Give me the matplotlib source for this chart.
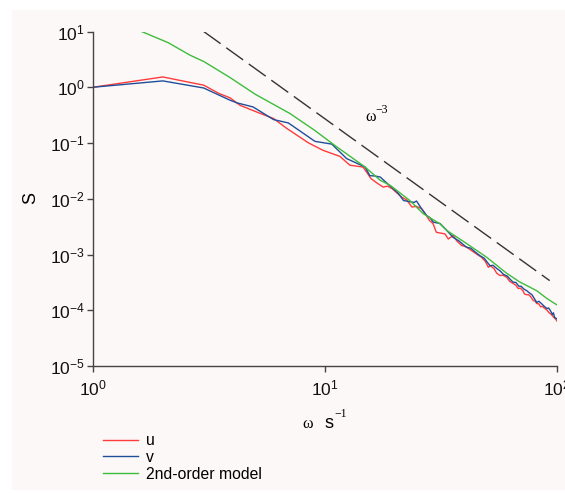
import matplotlib
matplotlib.use("Agg")
import matplotlib.pyplot as plt
import numpy as np
from matplotlib.patches import Rectangle
from matplotlib.ticker import FuncFormatter, LogLocator, NullLocator

plt.rcParams['font.family'] = ['Liberation Sans', 'DejaVu Sans']
plt.rcParams['mathtext.default'] = 'regular'

# u spectrum (red)
omega_u = [1.0, 2.0, 3.0, 3.5, 3.9, 4.3, 5.25, 6.0, 6.85, 8.5, 9.8, 11.6, 12.8, 14.6,
           15.8, 16.8, 17.8, 18.6, 19.5, 20.5, 21.4, 22.5, 23.7, 24.8, 26.1, 27.2,
           28.2, 29.2, 30.2, 32.9, 34.0, 35.7, 37.0, 38.8, 40.5, 42.9, 45.0, 47.3,
           49.0, 50.6, 51.5, 53.5, 55.0, 56.8, 58.5, 60.7, 62.5, 64.9, 66.5, 68.1,
           69.5, 71.3, 72.5, 74.0, 75.5, 77.0, 79.0, 80.5, 81.8, 83.5, 85.0, 86.5,
           88.0, 90.6, 92.5, 94.0, 95.5, 97.0, 98.5, 100.0]
S_u = [1.0, 1.53, 1.09, 0.77, 0.645, 0.475, 0.34, 0.275, 0.182, 0.10, 0.074, 0.0575,
       0.040, 0.037,
       0.0229, 0.019, 0.0162, 0.0168, 0.0151, 0.0125, 0.0107, 9.5e-3, 7.1e-3, 7.3e-3,
       6.6e-3, 5.2e-3, 4.07e-3, 3.6e-3, 2.5e-3, 2.34e-3, 1.9e-3, 2.19e-3, 1.75e-3,
       1.45e-3, 1.38e-3, 1.17e-3, 1.02e-3, 8.9e-4, 7.6e-4, 5.9e-4, 6.3e-4, 5.6e-4,
       4.6e-4, 4.2e-4, 4.25e-4, 3.9e-4, 3.3e-4, 3.0e-4, 2.8e-4, 2.45e-4, 2.5e-4,
       2.24e-4, 1.95e-4, 1.9e-4, 1.9e-4, 1.75e-4, 1.5e-4, 1.45e-4, 1.32e-4, 1.3e-4,
       1.15e-4, 1.18e-4, 1.1e-4, 1.0e-4, 9.0e-5, 8.6e-5, 8.0e-5, 7.4e-5, 7.0e-5, 6.4e-5]

# v spectrum (blue)
omega_v = [1.0, 2.0, 3.0, 3.5, 3.9, 4.17, 4.9, 6.0, 6.95, 9.05, 10.7, 12.4, 14.9,
           15.6, 16.5, 17.3, 18.5, 19.7, 20.7, 21.8, 23.0, 24.2, 24.8, 26.1, 27.4,
           28.3, 29.3, 31.3, 33.5, 35.6, 37.8, 40.7, 42.5, 44.5, 46.6, 48.5, 51.4,
           53.0, 55.0, 56.8, 58.8, 61.0, 62.8, 64.6, 66.5, 68.5, 70.0, 72.0, 74.1,
           76.0, 78.0, 80.0, 81.8, 83.5, 86.0, 88.0, 90.6, 92.0, 94.0, 95.5, 96.5,
           97.7, 100.0]
S_v = [1.0, 1.30, 0.97, 0.72, 0.585, 0.525, 0.443, 0.263, 0.229, 0.107, 0.0955,
       0.0525, 0.037,
       0.026, 0.0255, 0.0245, 0.019, 0.0151, 0.0125, 9.3e-3, 8.9e-3, 8.6e-3, 9.1e-3,
       6.6e-3, 5.0e-3, 4.6e-3, 3.8e-3, 3.6e-3, 2.7e-3, 2.04e-3, 1.75e-3, 1.35e-3,
       1.3e-3, 1.1e-3, 9.5e-4, 8.6e-4, 6.3e-4, 6.4e-4, 5.6e-4, 5.1e-4, 4.4e-4, 4.1e-4,
       3.6e-4, 3.2e-4, 3.15e-4, 2.7e-4, 2.7e-4, 2.4e-4, 2.24e-4, 2.05e-4, 1.9e-4,
       1.6e-4, 1.38e-4, 1.45e-4, 1.3e-4, 1.18e-4, 1.07e-4, 1.1e-4, 9.6e-5, 8.4e-5,
       9.0e-5, 7.4e-5, 7.0e-5]

# 2nd-order model (green)
omega_m = [1.61, 2.11, 2.62, 3.0, 3.9, 5.0, 7.07, 9.0, 11.0, 14.9, 17.3, 19.1, 23.2,
           26.5, 31.3, 33.5, 40.7, 49.8, 60.7, 69.2, 75.0, 81.8, 90.0, 97.7, 100.0]
S_m = [10.1, 6.3, 3.76, 2.9, 1.49, 0.75, 0.337, 0.17, 0.091, 0.037, 0.0214, 0.0174,
       9.3e-3, 5.4e-3, 3.55e-3, 2.7e-3, 1.58e-3, 8.9e-4, 4.6e-4, 3.2e-4, 2.7e-4,
       2.24e-4, 1.65e-4, 1.32e-4, 1.25e-4]

# omega^-3 reference
omega_ref = [3.0, 93.0]
S_ref = [10.0, 3.4e-4]

W, H = 565, 493
fig = plt.figure(figsize=(W / 100, H / 100), dpi=100)
fig.patches.append(Rectangle((12 / W, 3 / H), 553 / W, 480 / H, transform=fig.transFigure,
                             facecolor='#fcf8f7', edgecolor='none', zorder=-10))

ax = fig.add_axes([93 / W, 127 / H, 464 / W, 334.5 / H])
ax.patch.set_visible(False)
ax.set_xscale('log')
ax.set_yscale('log')

ax.plot(omega_ref, S_ref, color='#333333', lw=1.0, dashes=(15, 5))
l_u, = ax.plot(omega_u, S_u, color='#ff3b3b', lw=1.0, label='u')
l_v, = ax.plot(omega_v, S_v, color='#1f4e9a', lw=1.0, label='v')
l_m, = ax.plot(omega_m, S_m, color='#3cbd3c', lw=1.0, label='2nd-order model')

ax.set_xlim(1, 100)
ax.set_ylim(1e-5, 10)

fmt = FuncFormatter(lambda v, p: r'$\mathregular{10^{%d}}$' % round(np.log10(v)))
ax.xaxis.set_major_locator(LogLocator(base=10, numticks=10))
ax.yaxis.set_major_locator(LogLocator(base=10, numticks=10))
ax.xaxis.set_minor_locator(NullLocator())
ax.yaxis.set_minor_locator(NullLocator())
ax.xaxis.set_major_formatter(fmt)
ax.yaxis.set_major_formatter(fmt)
ax.tick_params(axis='both', labelsize=12.5, length=4, width=1, color='#444444', labelcolor='#111111')
ax.tick_params(axis='x', pad=5)
ax.tick_params(axis='y', pad=2)

for s in ['top', 'right']:
    ax.spines[s].set_visible(False)
for s in ['left', 'bottom']:
    ax.spines[s].set_color('#444444')
    ax.spines[s].set_linewidth(1.0)

# axis labels
fig.text(31 / W, 1 - 198 / H, 'S', rotation=90, fontsize=13, ha='center', va='center')
fig.text(308 / W, 1 - 424 / H, '\u03c9', family='Liberation Serif', fontsize=11.5, ha='center', va='center')
fig.text(329 / W, 1 - 423 / H, 's', fontsize=13, ha='center', va='center')
fig.text(341 / W, 1 - 414 / H, '\u22121', family='Liberation Serif', fontsize=8.5, ha='center', va='center')

# slope label
fig.text(371 / W, 1 - 117 / H, '\u03c9', family='Liberation Serif', fontsize=11.5, ha='center', va='center')
fig.text(382 / W, 1 - 110 / H, '\u22123', family='Liberation Serif', fontsize=8.5, ha='center', va='center')

fig.legend(handles=[l_u, l_v, l_m], loc='upper left', bbox_to_anchor=(103 / W, 1 - 433 / H),
           frameon=False, fontsize=11.3, handlelength=2.25, handletextpad=0.5,
           labelspacing=0.12, borderaxespad=0, borderpad=0)

fig.savefig('out.png', dpi=100)
